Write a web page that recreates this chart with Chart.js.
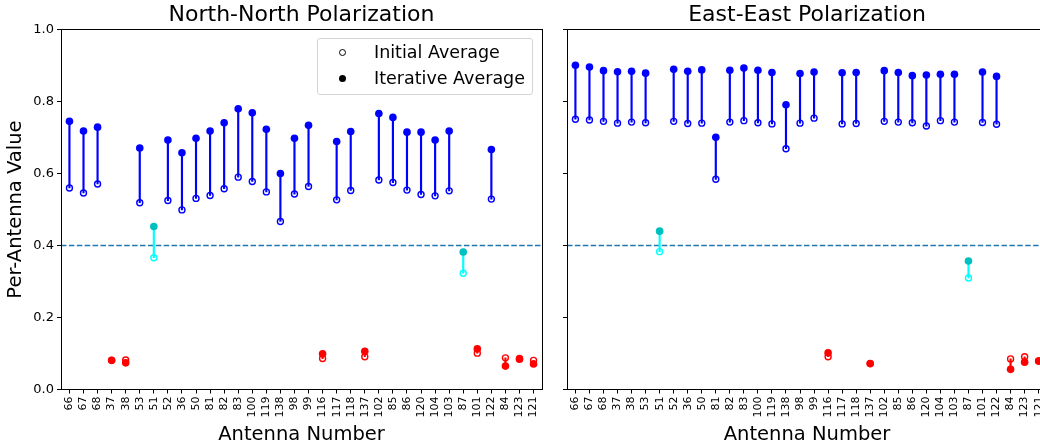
<!DOCTYPE html>
<html>
<head>
<meta charset="utf-8">
<script src="https://cdn.jsdelivr.net/npm/chart.js@4.4.1/dist/chart.umd.min.js"></script>
<style>
    html, body { margin: 0; padding: 0; background: #fff; overflow: hidden; }
    body { width: 1040px; height: 445px; position: relative; font-family: "DejaVu Sans", sans-serif; }
    #nnChart { position: absolute; left: 0; top: 0; }
    #eeChart { position: absolute; left: 555px; top: 0; }
    .legend {
        position: absolute; left: 317px; top: 38px; width: 214px; height: 55px;
        border: 1px solid #d4d4d4; border-radius: 3px; background: rgba(255,255,255,0.8);
    }
    .legend .mk { position: absolute; width: 7px; height: 7px; border-radius: 50%; box-sizing: border-box; }
    .legend .mk.open { border: 1.3px solid #000; }
    .legend .mk.full { background: #000; }
    .legend .txt { position: absolute; left: 56px; font-size: 17.5px; line-height: 20px; color: #000; white-space: nowrap; }
</style>
</head>
<body>
<canvas id="nnChart" width="555" height="445"></canvas>
<canvas id="eeChart" width="500" height="445"></canvas>
<div class="legend">
    <span class="mk open" style="left:21px; top:10px"></span>
    <span class="txt" style="top:3px">Initial Average</span>
    <span class="mk full" style="left:21px; top:36px"></span>
    <span class="txt" style="top:29px">Iterative Average</span>
</div>
<script>
// antenne nell'ordine dell'asse x
const antennas = ['66', '67', '68', '37', '38', '53', '51', '52', '36', '50', '81', '82', '83', '100', '119', '138', '98', '99',
                  '116', '117', '118', '137', '102', '85', '86', '120', '104', '103', '87', '101', '122', '84', '123', '121'];
const yTicks = [0, 0.2, 0.4, 0.6, 0.8, 1.0];
const threshold = 0.4;

// North-North
const nnInitial = [0.560, 0.546, 0.571, 0.081, 0.082, 0.519, 0.366, 0.525, 0.499, 0.531, 0.539, 0.558, 0.590, 0.578, 0.549, 0.467, 0.543, 0.564,
                   0.086, 0.527, 0.553, 0.091, 0.582, 0.575, 0.554, 0.542, 0.538, 0.552, 0.323, 0.101, 0.529, 0.088, 0.086, 0.081];
const nnIterative = [0.745, 0.718, 0.729, 0.081, 0.074, 0.671, 0.453, 0.693, 0.658, 0.698, 0.718, 0.741, 0.780, 0.769, 0.723, 0.600, 0.698, 0.734,
                     0.099, 0.689, 0.717, 0.106, 0.767, 0.756, 0.715, 0.715, 0.693, 0.718, 0.382, 0.113, 0.667, 0.065, 0.084, 0.071];
const nnFlag = ['b', 'b', 'b', 'r', 'r', 'b', 'c', 'b', 'b', 'b', 'b', 'b', 'b', 'b', 'b', 'b', 'b', 'b',
                'r', 'b', 'b', 'r', 'b', 'b', 'b', 'b', 'b', 'b', 'c', 'r', 'b', 'r', 'r', 'r'];

// East-East
const eeInitial = [0.751, 0.749, 0.745, 0.740, 0.743, 0.741, 0.383, 0.745, 0.739, 0.740, 0.584, 0.743, 0.747, 0.741, 0.738, 0.669, 0.740, 0.754,
                   0.091, 0.738, 0.739, 0.072, 0.745, 0.743, 0.741, 0.732, 0.747, 0.743, 0.310, 0.742, 0.737, 0.085, 0.091, 0.079];
const eeIterative = [0.901, 0.896, 0.886, 0.883, 0.884, 0.879, 0.440, 0.890, 0.884, 0.888, 0.701, 0.887, 0.893, 0.887, 0.881, 0.791, 0.878, 0.882,
                     0.102, 0.880, 0.881, 0.072, 0.886, 0.881, 0.872, 0.874, 0.876, 0.876, 0.357, 0.882, 0.870, 0.056, 0.076, 0.079];
const eeFlag = ['b', 'b', 'b', 'b', 'b', 'b', 'c', 'b', 'b', 'b', 'b', 'b', 'b', 'b', 'b', 'b', 'b', 'b',
                'r', 'b', 'b', 'r', 'b', 'b', 'b', 'b', 'b', 'b', 'c', 'b', 'b', 'r', 'r', 'r'];

const FONT = '"DejaVu Sans", sans-serif';
const xMin = -0.6, xMax = 33.6;
const palette = {
    b: { stem: '#0000ff', open: '#0000ff', fill: '#0000ff' },
    c: { stem: '#00ffff', open: '#00ffff', fill: '#00bfbf' },
    r: { stem: '#ff0000', open: '#ff0000', fill: '#ff0000' }
};

// cornice completa degli assi (stile matplotlib)
const framePlugin = {
    id: 'frame',
    afterDraw(chart) {
        const { ctx, chartArea: a } = chart;
        const al = v => Math.round(v - 0.5) + 0.5;
        ctx.save();
        ctx.strokeStyle = '#000';
        ctx.lineWidth = 1;
        ctx.strokeRect(al(a.left), al(a.top), al(a.right) - al(a.left), al(a.bottom) - al(a.top));
        ctx.restore();
    }
};

function buildDatasets(initial, iterative, flags) {
    return [
        {
            type: 'line',
            data: [{ x: xMin, y: threshold }, { x: xMax, y: threshold }],
            borderColor: '#1f77b4', borderWidth: 1.5, borderDash: [5.5, 2.4],
            pointRadius: 0, order: 4
        },
        {
            type: 'bar',
            data: initial.map((v, i) => ({ x: i, y: [v, iterative[i]] })),
            backgroundColor: flags.map(f => palette[f].stem),
            barThickness: 1.5, grouped: false, borderWidth: 0, order: 3
        },
        {
            type: 'scatter',
            data: initial.map((v, i) => ({ x: i, y: v })),
            pointRadius: 3, pointBorderWidth: 1.4,
            pointBackgroundColor: 'rgba(0,0,0,0)',
            pointBorderColor: flags.map(f => palette[f].open), order: 2
        },
        {
            type: 'scatter',
            data: iterative.map((v, i) => ({ x: i, y: v })),
            pointRadius: 3.8, pointBorderWidth: 0,
            pointBackgroundColor: flags.map(f => palette[f].fill), order: 1
        }
    ];
}

function buildOptions(title, showY, yWidth, padRight) {
    return {
        responsive: false,
        animation: false,
        events: [],
        layout: { padding: { left: 0, right: padRight, top: 0, bottom: 0 } },
        plugins: {
            legend: { display: false },
            tooltip: { enabled: false },
            title: {
                display: true, text: title, fullSize: false, color: '#000',
                font: { family: FONT, size: 22, weight: 'normal' },
                padding: { top: 2, bottom: 1.2 }
            }
        },
        scales: {
            x: {
                type: 'linear', min: xMin, max: xMax, offset: false,
                afterBuildTicks: s => { s.ticks = antennas.map((_, i) => ({ value: i })); },
                afterFit: s => { s.height = 55.5; },
                ticks: {
                    autoSkip: false, minRotation: 90, maxRotation: 90, padding: 3,
                    color: '#000', font: { family: FONT, size: 11 },
                    callback: v => antennas[v]
                },
                grid: { drawOnChartArea: false, drawTicks: true, tickLength: 4, tickColor: '#000', offset: false },
                border: { display: true, color: '#000', width: 1 },
                title: {
                    display: true, text: 'Antenna Number', color: '#000',
                    font: { family: FONT, size: 19.5 }, padding: { top: 0, bottom: -2 }
                }
            },
            y: {
                type: 'linear', min: 0, max: 1,
                afterBuildTicks: s => { s.ticks = yTicks.map(v => ({ value: v })); },
                afterFit: s => { s.width = yWidth; },
                ticks: {
                    display: showY, padding: 3, color: '#000',
                    font: { family: FONT, size: 13 },
                    callback: v => v.toFixed(1)
                },
                grid: { drawOnChartArea: false, drawTicks: true, tickLength: 4, tickColor: '#000' },
                border: { display: true, color: '#000', width: 1 },
                title: {
                    display: showY, text: 'Per-Antenna Value', color: '#000',
                    font: { family: FONT, size: 19.5 }, padding: { top: 4, bottom: 0 }
                }
            }
        }
    };
}

new Chart(document.getElementById('nnChart'), {
    type: 'scatter',
    data: { datasets: buildDatasets(nnInitial, nnIterative, nnFlag) },
    options: buildOptions('North-North Polarization', true, 61, 13),
    plugins: [framePlugin]
});

new Chart(document.getElementById('eeChart'), {
    type: 'scatter',
    data: { datasets: buildDatasets(eeInitial, eeIterative, eeFlag) },
    options: buildOptions('East-East Polarization', false, 12, 7),
    plugins: [framePlugin]
});
</script>
</body>
</html>
